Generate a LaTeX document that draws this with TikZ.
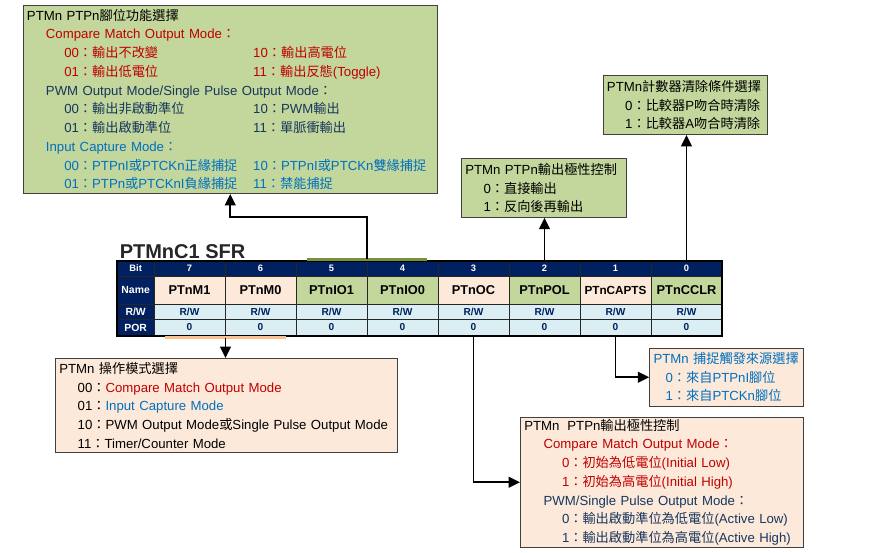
\documentclass[tikz,border=0pt]{standalone}
\usepackage{fontspec}
\setmainfont{Liberation Sans}
\newfontfamily\cjkfont{Noto Sans CJK TC}
\usetikzlibrary{arrows.meta,fit}
\definecolor{ptmgreen}{HTML}{C3D69B}
\definecolor{ptmpeach}{HTML}{FDE9D9}
\definecolor{ptmnavy}{HTML}{002060}
\definecolor{ptmsky}{HTML}{DAEEF3}
\definecolor{ptmred}{HTML}{C00000}
\definecolor{ptmdark}{HTML}{17375E}
\definecolor{ptmblue}{HTML}{0070C0}
\definecolor{ptmolive}{HTML}{76923C}
\definecolor{ptmorange}{HTML}{FAC090}
\definecolor{ptmline}{HTML}{404040}
\newcommand\zh[1]{{\cjkfont #1}}

\begin{document}
\begin{tikzpicture}[
  x=0.75pt, y=-0.75pt,
  font=\fontsize{9.9pt}{14.06pt}\selectfont,
  infobox/.style={draw=ptmline, line width=0.8pt, fill=#1, anchor=north west,
              align=left, inner xsep=2.8pt, inner ysep=0pt},
  cell/.style={draw=black!85, line width=0.6pt, fill=#1, inner sep=0pt,
              minimum width=53.25pt},
  headcell/.style={cell=ptmnavy, text=white, minimum height=11.25pt,
              font=\fontsize{7pt}{8pt}\selectfont\bfseries},
  namecell/.style={cell=#1, minimum height=21pt,
              font=\fontsize{9.6pt}{10pt}\selectfont\bfseries},
  datacell/.style={cell=ptmsky, text=ptmnavy,
              font=\fontsize{7.6pt}{8pt}\selectfont\bfseries},
  lblcell/.style={cell=ptmnavy, text=white, minimum width=27.5pt,
              font=\fontsize{7.8pt}{8pt}\selectfont\bfseries},
  flow/.style={-{Triangle[length=8.5pt,width=8pt]}, line width=1.4pt},
  bar/.style={line width=2.3pt, draw=#1}
]
  \path[use as bounding box, fill=white] (0,0) rectangle (882,553);

  % register table
  \node[anchor=base west, inner sep=0pt, text=black!85,
        font=\fontsize{15pt}{18pt}\selectfont\bfseries] (sfrTitle) at (119.5,258.7) {PTMnC1 SFR};
  \node[lblcell, minimum height=11.25pt] (lblBit) at (135.65,268.5) {\fontsize{7pt}{8pt}\selectfont Bit};
  \node[lblcell, minimum height=21pt] (lblName) at (135.65,290) {Name};
  \node[lblcell, minimum height=11.6pt] (lblRW) at (135.65,311.75) {R/W};
  \node[lblcell, minimum height=12pt] (lblPOR) at (135.65,327.5) {POR};
  \foreach \b/\regname/\cellcol [count=\i from 0] in {7/PTnM1/ptmpeach, 6/PTnM0/ptmpeach,
      5/PTnIO1/ptmgreen, 4/PTnIO0/ptmgreen, 3/PTnOC/ptmpeach, 2/PTnPOL/ptmgreen,
      1/{\fontsize{8.8pt}{9pt}\selectfont PTnCAPTS}/ptmpeach, 0/PTnCCLR/ptmgreen} {
    \node[headcell] (bit\b) at ({189.5+71*\i},268.5) {\b};
    \node[namecell=\cellcol] (name\b) at ({189.5+71*\i},290) {\regname};
    \node[datacell, minimum height=11.6pt] (rw\b) at ({189.5+71*\i},311.75) {R/W};
    \node[datacell, minimum height=12pt] (por\b) at ({189.5+71*\i},327.5) {0};
  }
  \node[draw=black, line width=1.4pt, inner sep=0pt, fit=(lblBit)(por0)] (sfrTable) {};
  \draw[bar=ptmolive] (306.7,259.3) -- coordinate (ioBar) (426.7,259.3);
  \draw[bar=ptmorange] (165,337.6) -- coordinate (modeBar) (286,337.6);

  % description boxes
  \node[infobox=ptmgreen, text width=304.9pt, minimum height=141pt] (pinBox) at (22.7,5) {%
    PTMn PTPn\zh{腳位功能選擇}\\
    \hspace*{14.25pt}\textcolor{ptmred}{Compare Match Output Mode\zh{：}}\\
    \hspace*{28pt}\textcolor{ptmred}{\makebox[141.7pt][l]{00\zh{：輸出不改變}}10\zh{：輸出高電位}}\\
    \hspace*{28pt}\textcolor{ptmred}{\makebox[141.7pt][l]{01\zh{：輸出低電位}}11\zh{：輸出反態}(Toggle)}\\
    \hspace*{14.25pt}\textcolor{ptmdark}{PWM Output Mode/Single Pulse Output Mode\zh{：}}\\
    \hspace*{28pt}\textcolor{ptmdark}{\makebox[141.7pt][l]{00\zh{：輸出非啟動準位}}10\zh{：}PWM\zh{輸出}}\\
    \hspace*{28pt}\textcolor{ptmdark}{\makebox[141.7pt][l]{01\zh{：輸出啟動準位}}11\zh{：單脈衝輸出}}\\
    \hspace*{14.25pt}\textcolor{ptmblue}{Input Capture Mode\zh{：}}\\
    \hspace*{28pt}\textcolor{ptmblue}{\makebox[141.7pt][l]{00\zh{：}PTPnI\zh{或}PTCKn\zh{正緣捕捉}}10\zh{：}PTPnI\zh{或}PTCKn\zh{雙緣捕捉}}\\
    \hspace*{28pt}\textcolor{ptmblue}{\makebox[141.7pt][l]{01\zh{：}PTPn\zh{或}PTCKnI\zh{負緣捕捉}}11\zh{：禁能捕捉}}};
  \node[infobox=ptmgreen, text width=118.15pt, minimum height=43.8pt] (polBox) at (461,158.3) {%
    PTMn PTPn\zh{輸出極性控制}\\
    \hspace*{13.7pt}0\zh{：直接輸出}\\
    \hspace*{13.7pt}1\zh{：反向後再輸出}};
  \node[infobox=ptmgreen, text width=117.6pt, minimum height=44.25pt] (clrBox) at (602.7,75) {%
    PTMn\zh{計數器清除條件選擇}\\
    \hspace*{13.7pt}0\zh{：比較器}P\zh{吻合時清除}\\
    \hspace*{13.7pt}1\zh{：比較器}A\zh{吻合時清除}};
  \node[infobox=ptmpeach, text width=250.7pt, minimum height=70.3pt] (modeBox) at (55,358) {%
    PTMn \zh{操作模式選擇}\\
    \hspace*{13.8pt}00\zh{：}\textcolor{ptmred}{Compare Match Output Mode}\\
    \hspace*{13.8pt}01\zh{：}\textcolor{ptmblue}{Input Capture Mode}\\
    \hspace*{13.8pt}10\zh{：}PWM Output Mode\zh{或}Single Pulse Output Mode\\
    \hspace*{13.8pt}11\zh{：}Timer/Counter Mode};
  \node[infobox=ptmpeach, text=ptmblue, text width=109.4pt, minimum height=43.5pt] (capBox) at (649.3,347.7) {%
    PTMn \zh{捕捉觸發來源選擇}\\
    \hspace*{9pt}0\zh{：來自}PTPnI\zh{腳位}\\
    \hspace*{9pt}1\zh{：來自}PTCKn\zh{腳位}};
  \node[infobox=ptmpeach, text width=206.9pt, minimum height=97.5pt] (outBox) at (520,416.7) {%
    PTMn\hspace{0.6em}PTPn\zh{輸出極性控制}\\
    \hspace*{14.5pt}\textcolor{ptmred}{Compare Match Output Mode\zh{：}}\\
    \hspace*{28.3pt}\textcolor{ptmred}{0\zh{：初始為低電位}(Initial Low)}\\
    \hspace*{28.3pt}\textcolor{ptmred}{1\zh{：初始為高電位}(Initial High)}\\
    \hspace*{14.5pt}\textcolor{ptmdark}{PWM/Single Pulse Output Mode\zh{：}}\\
    \hspace*{28.3pt}\textcolor{ptmdark}{0\zh{：輸出啟動準位為低電位}(Active Low)}\\
    \hspace*{28.3pt}\textcolor{ptmdark}{1\zh{：輸出啟動準位為高電位}(Active High)}};

  % connectors
  \draw[flow] (ioBar) -- ++(0,-42.5) -| (pinBox.south);
  \draw[flow] (bit2.north) -- (bit2.north |- polBox.south);
  \draw[flow] (bit0.north) -- (bit0.north |- clrBox.south);
  \draw[flow] (modeBar) -- (modeBar |- modeBox.north);
  \draw[flow] (por1.south) |- (capBox.west);
  \draw[flow] (por3.south) |- (outBox.west);
\end{tikzpicture}
\end{document}
